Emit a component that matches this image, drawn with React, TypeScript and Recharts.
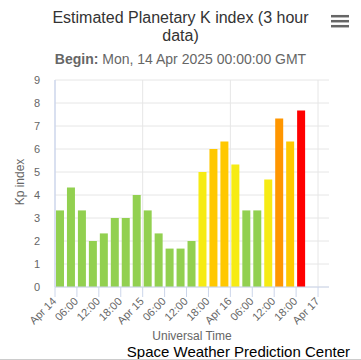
import React from 'react';
import { ComposedChart, Bar, XAxis, YAxis, CartesianGrid, ReferenceLine, Cell } from 'recharts';

// Hours since Mon, 14 Apr 2025 00:00 GMT (centre of each 3-hour interval)
const hours = [1.5, 4.5, 7.5, 10.5, 13.5, 16.5, 19.5, 22.5, 25.5, 28.5, 31.5, 34.5, 37.5, 40.5, 43.5, 46.5, 49.5, 52.5, 55.5, 58.5, 61.5, 64.5, 67.5];
const kpValues = [3.33, 4.33, 3.33, 2.0, 2.33, 3.0, 3.0, 4.0, 3.33, 2.33, 1.67, 1.67, 2.0, 5.0, 6.0, 6.33, 5.33, 3.33, 3.33, 4.67, 7.33, 6.33, 7.67];
const xTicks = [0, 6, 12, 18, 24, 30, 36, 42, 48, 54, 60, 66, 72];
const xTickLabels = ['Apr 14', '06:00', '12:00', '18:00', 'Apr 15', '06:00', '12:00', '18:00', 'Apr 16', '06:00', '12:00', '18:00', 'Apr 17'];
const yTicks = [0, 1, 2, 3, 4, 5, 6, 7, 8, 9];
const dayBoundaries = [24, 48, 72];

const data = hours.map((h, i) => ({ h, kp: kpValues[i] }));

const kpColor = (v: number) => {
  const r = Math.round(v);
  if (r < 5) return '#92D050';
  if (r === 5) return '#F6EB14';
  if (r === 6) return '#FFC800';
  if (r === 7) return '#FF9600';
  if (r === 8) return '#FF0000';
  return '#C80000';
};

const FONT = '"Liberation Sans", Arial, Helvetica, sans-serif';

const XTick = (props: any) => {
  const { x, y, payload } = props;
  const idx = xTicks.indexOf(payload.value);
  return (
    <g transform={`translate(${x + 2},${y + 5})`}>
      <text x={0} y={0} textAnchor="end" transform="rotate(-45)" fill="#666666" fontSize={11} fontFamily={FONT}>
        {xTickLabels[idx]}
      </text>
    </g>
  );
};

export default function App() {
  return (
    <div style={{ position: 'absolute', left: 0, top: 0, width: 361, height: 360, background: '#fff' }}>
      <ComposedChart
        width={361}
        height={360}
        data={data}
        margin={{ top: 80, right: 0, bottom: 0, left: 0 }}
        style={{ fontFamily: FONT }}
      >
        <CartesianGrid yAxisId="left" vertical={false} stroke="#e6e6e6" strokeWidth={1} />
        <XAxis
          dataKey="h"
          type="number"
          domain={[0, 75]}
          ticks={xTicks}
          interval={0}
          height={73}
          tick={<XTick />}
          tickSize={10}
          tickMargin={0}
          axisLine={{ stroke: '#ccd6eb' }}
          tickLine={{ stroke: '#ccd6eb' }}
          allowDataOverflow
        />
        <YAxis
          yAxisId="left"
          orientation="left"
          width={55}
          domain={[0, 9]}
          ticks={yTicks}
          interval={0}
          tickSize={0}
          tickMargin={15}
          tickLine={false}
          axisLine={{ stroke: '#ccd6eb', strokeWidth: 1.5 }}
          tick={{ fill: '#666666', fontSize: 11, fontFamily: FONT }}
        />
        <YAxis
          yAxisId="right"
          orientation="right"
          width={32}
          domain={[0, 9]}
          ticks={yTicks}
          interval={0}
          tickSize={0}
          tickMargin={16}
          tickLine={false}
          axisLine={false}
          tick={{ fill: '#666666', fontSize: 11, fontFamily: FONT }}
        />
        {dayBoundaries.map((d) => (
          <ReferenceLine key={d} x={d} yAxisId="left" stroke="#e6e6e6" strokeWidth={1} />
        ))}
        <Bar dataKey="kp" yAxisId="left" barSize={8} isAnimationActive={false}>
          {data.map((d, i) => (
            <Cell key={i} fill={kpColor(d.kp)} />
          ))}
        </Bar>
      </ComposedChart>
      <svg
        width={361}
        height={360}
        style={{ position: 'absolute', left: 0, top: 0, pointerEvents: 'none' }}
        fontFamily={FONT}
      >
        <text x={180.5} y={22.5} textAnchor="middle" fontSize={16} fill="#333333">
          Estimated Planetary K index (3 hour
        </text>
        <text x={180.5} y={40.5} textAnchor="middle" fontSize={16} fill="#333333">
          data)
        </text>
        <text x={180.5} y={63.5} textAnchor="middle" fontSize={14} fill="#666666">
          <tspan fontWeight="bold">Begin:</tspan> Mon, 14 Apr 2025 00:00:00 GMT
        </text>
        <g stroke="#666666" strokeWidth={2.5}>
          <line x1={331} y1={16.2} x2={349} y2={16.2} />
          <line x1={331} y1={21.2} x2={349} y2={21.2} />
          <line x1={331} y1={26.2} x2={349} y2={26.2} />
        </g>
        <text x={24} y={182} textAnchor="middle" fontSize={12} fill="#666666" transform="rotate(-90, 24, 182)">
          Kp index
        </text>
        <text x={192} y={340} textAnchor="middle" fontSize={12} fill="#666666">
          Universal Time
        </text>
        <text x={350} y={357} textAnchor="end" fontSize={15} fill="#000000">
          Space Weather Prediction Center
        </text>
        <line x1={0} y1={359.5} x2={361} y2={359.5} stroke="#cccccc" strokeWidth={1} />
      </svg>
    </div>
  );
}
